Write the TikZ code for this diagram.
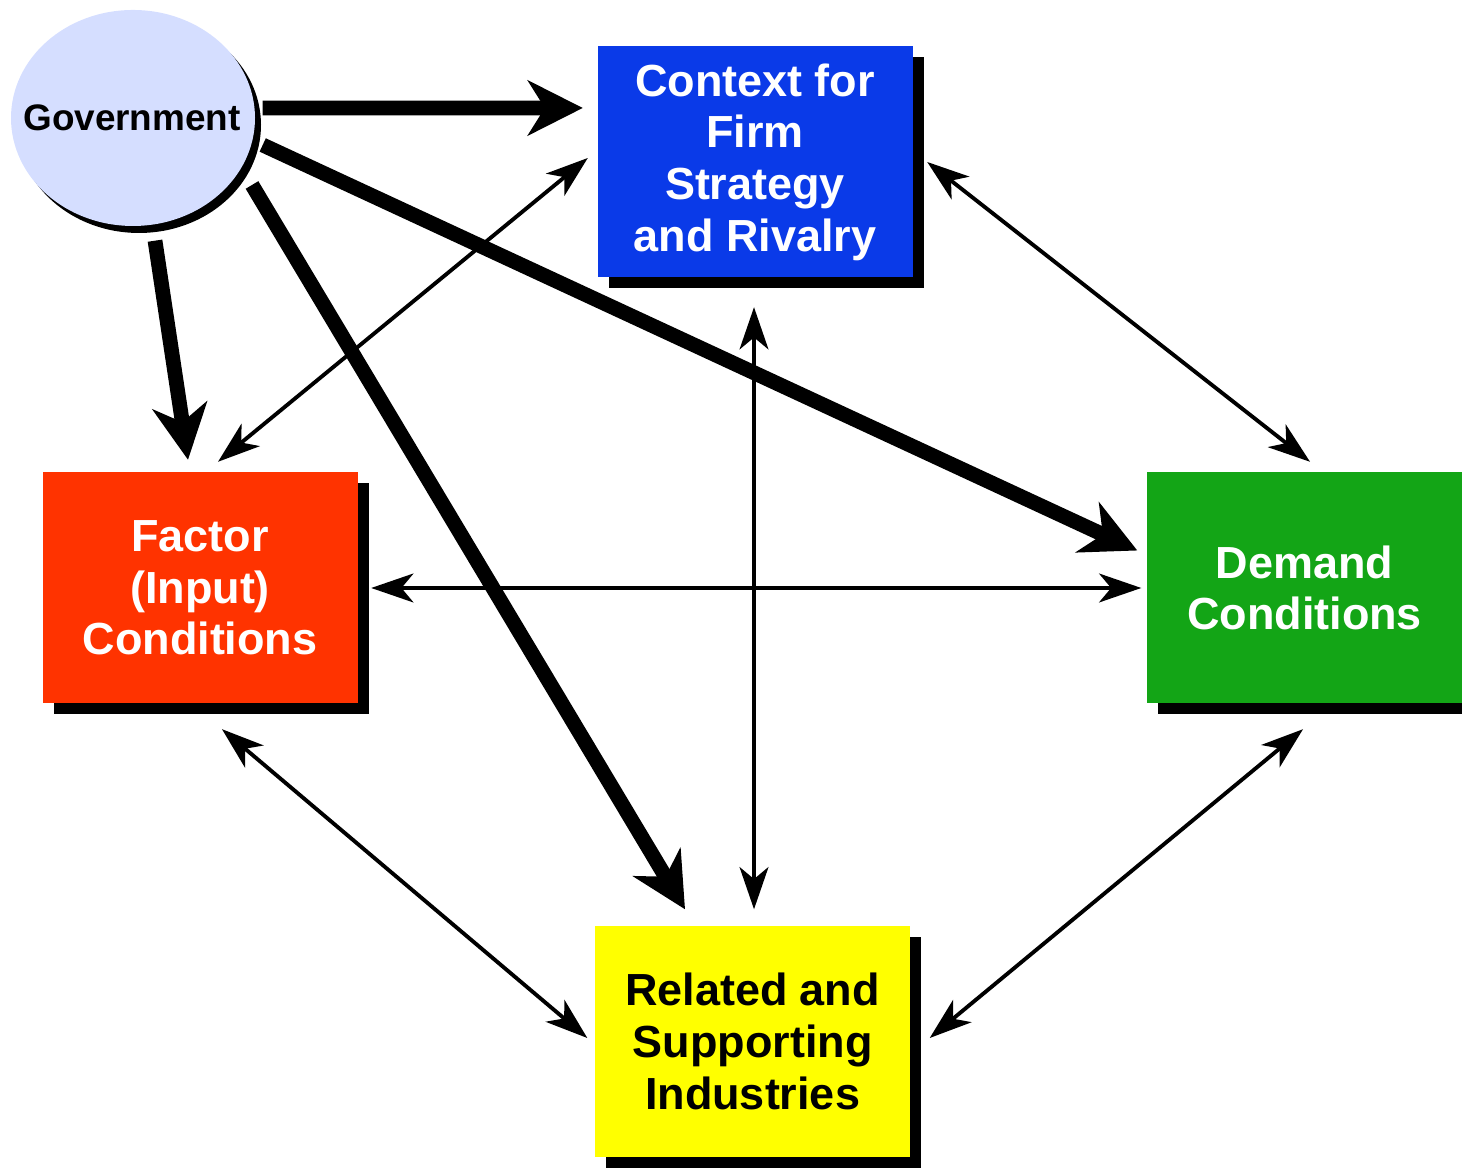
\documentclass[tikz,border=0pt]{standalone}
\usepackage{fontspec}
\setmainfont{Liberation Sans}
\usetikzlibrary{arrows.meta, calc, shapes.geometric, shadows}
\definecolor{govFill}{RGB}{213,222,255}
\definecolor{rivalFill}{RGB}{10,58,232}
\definecolor{factorFill}{RGB}{255,51,0}
\definecolor{demandFill}{RGB}{19,165,22}
\definecolor{relatedFill}{RGB}{255,255,0}
\tikzset{
  % square boxes of the diamond; colour comes from the fill
  corner/.style={
    rectangle, draw=none, inner sep=0pt, align=center,
    minimum width=3.15cm, minimum height=2.31cm,
    font=\fontsize{12.8}{14.7}\selectfont\bfseries,
    general shadow={fill=black, shadow xshift=0.11cm, shadow yshift=-0.11cm}
  },
  govnode/.style={
    ellipse, draw=none, fill=govFill, inner sep=0pt,
    minimum width=2.44cm, minimum height=2.16cm,
    general shadow={fill=black, shadow xshift=0.06cm, shadow yshift=-0.07cm}
  },
  govtag/.style={font=\fontsize{10.5}{12}\selectfont\bfseries, inner sep=0pt},
  % arrows
  govflow/.style={-{Stealth[length=15.6pt,width=15.6pt,inset=4.8pt]}, line width=4.2pt},
  linkflow/.style={{Stealth[length=12pt,width=8.2pt,inset=3.4pt]}-{Stealth[length=12pt,width=8.2pt,inset=3.4pt]},
                   line width=1.1pt},
}
\begin{document}
\begin{tikzpicture}
\useasboundingbox (0,0) rectangle (14.62,11.67);

% ===========================================================================
% NODES
% ===========================================================================
\node[govnode] (gov) at (1.33, 10.49) {};
\node[govtag] (govtext) at (1.32, 10.49) {Government};

\node[corner, fill=rivalFill, text=white] (rival) at (7.55, 10.05)
      {Context for\\Firm\\Strategy\\and Rivalry};
\node[corner, fill=factorFill, text=white] (factor) at (2.00, 5.79)
      {Factor\\(Input)\\Conditions};
\node[corner, fill=demandFill, text=white] (demand) at (13.045, 5.79)
      {Demand\\Conditions};
\node[corner, fill=relatedFill, text=black] (related) at (7.525, 1.255)
      {Related and\\Supporting\\Industries};

% ===========================================================================
% GOVERNMENT INFLUENCE (thick arrows)
% ===========================================================================
\draw[govflow] ($(gov.east)+(0.07,0.10)$) -- ($(rival.west)+(-0.14,0.54)$);
\draw[govflow] ($(gov.south)+(0.22,-0.14)$) -- ($(factor.north)+(-0.12,0.12)$);
\draw[govflow] ($(gov.east)+(0.07,-0.27)$) -- ($(demand.west)+(-0.09,0.375)$);
\draw[govflow] ($(gov.center)+(1.19,-0.67)$) -- ($(related.north)+(-0.675,0.16)$);

% ===========================================================================
% DIAMOND LINKS (thin two-way arrows)
% ===========================================================================
\draw[linkflow] ($(factor.north)+(0.18,0.10)$) -- ($(rival.west)+(-0.09,0.04)$);
\draw[linkflow] ($(rival.east)+(0.14,0)$) -- ($(demand.north)+(0.055,0.10)$);
\draw[linkflow] ($(rival.south)+(-0.01,-0.29)$) -- ($(related.north)+(0.015,0.16)$);
\draw[linkflow] ($(factor.east)+(0.13,0)$) -- ($(demand.west)+(-0.05,0)$);
\draw[linkflow] ($(factor.south)+(0.22,-0.25)$) -- ($(related.west)+(-0.07,0.035)$);
\draw[linkflow] ($(demand.south)+(-0.015,-0.25)$) -- ($(related.east)+(0.19,0.035)$);

\end{tikzpicture}
\end{document}
